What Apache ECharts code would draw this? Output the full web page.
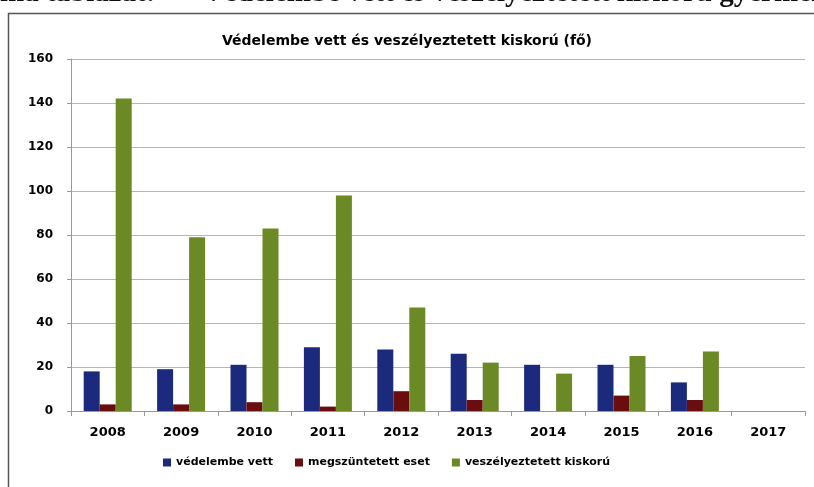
<!DOCTYPE html>
<html>
<head lang="hu">
	<meta charset="UTF-8">
	<title></title>
	<script type="text/javascript" src="https://cdn.jsdelivr.net/npm/echarts@6/dist/echarts.min.js"></script>
	<style>
		html, body { margin: 0; padding: 0; background: #fff; }
		#chart { width: 814px; height: 487px; }
	</style>
</head>
<body>
<div id="chart"></div>
<script>
// évek
var years = ['2008', '2009', '2010', '2011', '2012', '2013', '2014', '2015', '2016', '2017'];
// védelembe vett
var vedelembe = [18, 19, 21, 29, 28, 26, 21, 21, 13, null];
// megszüntetett eset
var megszuntetett = [3, 3, 4, 2, 9, 5, null, 7, 5, null];
// veszélyeztetett kiskorú
var veszelyeztetett = [142, 79, 83, 98, 47, 22, 17, 25, 27, null];
var yTicks = [0, 20, 40, 60, 80, 100, 120, 140, 160];

var labelFont = 'DejaVu Sans, sans-serif';
var headFont = 'bold 29px "Liberation Serif", "DejaVu Serif", serif';

var myChart = echarts.init(document.getElementById('chart'));
var option = {
	animation: false,
	backgroundColor: '#fff',
	title: {
		text: 'Védelembe vett és veszélyeztetett kiskorú (fő)',
		left: 'center',
		top: 29,
		textStyle: {
			fontFamily: labelFont,
			fontWeight: 'bold',
			fontSize: 14,
			color: '#000'
		}
	},
	graphic: [
		{
			type: 'rect',
			shape: { x: 8.5, y: 13.5, width: 830, height: 500 },
			style: { fill: 'none', stroke: '#555', lineWidth: 1.5 }
		},
		// a táblázat címe, felül levágva
		{
			type: 'text',
			left: 0,
			top: -21,
			style: { text: 'ma táblázat:', font: headFont, fill: '#111' }
		},
		{
			type: 'text',
			left: 203,
			top: -21,
			style: { text: 'Védelembe vett és veszélyeztetett kiskorú gyermek', font: headFont, fill: '#111' }
		}
	],
	legend: {
		bottom: 14,
		left: 158,
		itemWidth: 8,
		itemHeight: 8,
		itemGap: 22,
		icon: 'rect',
		textStyle: {
			fontFamily: labelFont,
			fontWeight: 'bold',
			fontSize: 11,
			color: '#000'
		},
		data: ['védelembe vett', 'megszüntetett eset', 'veszélyeztetett kiskorú']
	},
	grid: {
		left: 71,
		right: 9,
		top: 59,
		bottom: 76
	},
	xAxis: {
		type: 'category',
		data: years,
		axisLine: { lineStyle: { color: '#999', width: 1 } },
		axisTick: { show: true, length: 5, lineStyle: { color: '#999' } },
		axisLabel: {
			margin: 15,
			fontFamily: labelFont,
			fontWeight: 'bold',
			fontSize: 13,
			color: '#000'
		}
	},
	yAxis: {
		type: 'value',
		min: yTicks[0],
		max: yTicks[yTicks.length - 1],
		interval: 20,
		axisLine: { show: true, lineStyle: { color: '#999', width: 1 } },
		axisTick: { show: true, length: 4, lineStyle: { color: '#999' } },
		splitLine: { lineStyle: { color: '#b5b5b5', width: 1 } },
		axisLabel: {
			margin: 18,
			fontFamily: labelFont,
			fontWeight: 'bold',
			fontSize: 12,
			color: '#000'
		}
	},
	series: [
		{
			name: 'védelembe vett',
			type: 'bar',
			barWidth: 16,
			barGap: '0%',
			data: vedelembe,
			itemStyle: { color: '#1b2a7d' }
		},
		{
			name: 'megszüntetett eset',
			type: 'bar',
			barWidth: 16,
			data: megszuntetett,
			itemStyle: { color: '#6a0d0e' }
		},
		{
			name: 'veszélyeztetett kiskorú',
			type: 'bar',
			barWidth: 16,
			data: veszelyeztetett,
			itemStyle: { color: '#6b8a25' }
		}
	]
};
myChart.setOption(option);
</script>
</body>
</html>
